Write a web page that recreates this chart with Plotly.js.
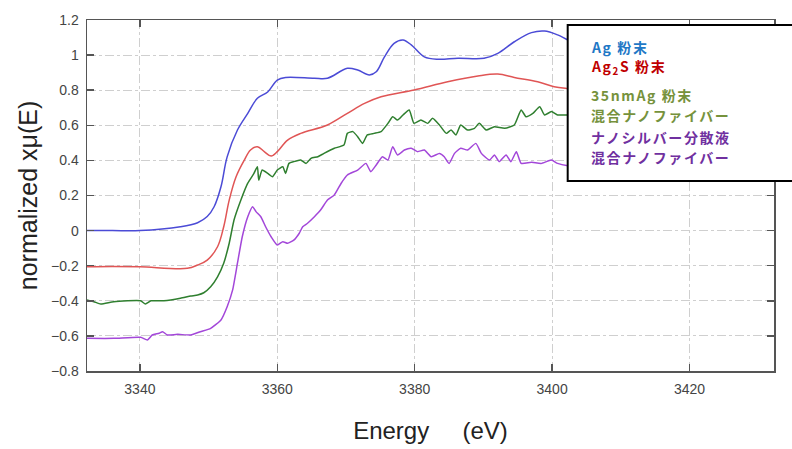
<!DOCTYPE html>
<html>
<head>
<meta charset="utf-8">
<script src="https://cdn.plot.ly/plotly-3.0.1.min.js"></script>
<style>html,body{margin:0;padding:0;background:#fff;}#chart{width:792px;height:449px;}</style>
</head>
<body>
<div id="chart"></div>
<script>
// Ag powder
const agE = [3332.3,3336,3340,3345.9,3348.4,3349.8,3350.8,3351.8,3352.7,3354.2,3355.7,3357.1,3358.6,3360,3361.2,3365.4,3367.3,3370.2,3371.7,3373.4,3374.4,3375.6,3377,3378.3,3379.5,3381.4,3383.4,3386.3,3390.1,3392.1,3394.5,3397,3398.9,3400.8,3402.3,3404];
const agV = [0.0,0.0,0.0,0.022,0.045,0.08,0.136,0.25,0.42,0.573,0.668,0.754,0.79,0.858,0.873,0.868,0.868,0.925,0.915,0.887,0.905,0.99,1.067,1.086,1.058,0.99,0.976,0.982,0.982,1.01,1.076,1.128,1.137,1.115,1.086,1.06];

// Ag2S powder
const ag2sE = [3332.3,3336,3340,3346.9,3348.4,3349.8,3351.3,3352.2,3353,3354,3355.2,3356.1,3357.1,3358.1,3359.1,3360,3361.5,3363.4,3367.3,3370.2,3372.7,3375.1,3379.9,3384.8,3389.2,3392.1,3394.5,3397.9,3400.3,3402.3,3404];
const ag2sV = [-0.206,-0.204,-0.206,-0.215,-0.196,-0.168,-0.092,0.022,0.174,0.307,0.402,0.459,0.478,0.45,0.425,0.45,0.516,0.554,0.602,0.668,0.725,0.763,0.801,0.848,0.881,0.892,0.873,0.848,0.82,0.81,0.805];

// 35nm Ag powder mixed nanofiber
const nm35E = [3332.3,3333.3,3334.3,3336.2,3340.1,3340.8,3341.6,3343.5,3345.9,3347.4,3348.4,3349.3,3350.3,3351.3,3352.2,3353,3353.7,3354.7,3355.7,3356.6,3357.1,3357.3,3357.8,3358.6,3359.3,3360,3360.8,3361.2,3361.7,3362.4,3363.4,3364.2,3364.9,3365.9,3366.8,3368.3,3369.7,3370.2,3371,3371.7,3372.4,3373.1,3374.1,3375.1,3376.1,3376.8,3377.5,3378.3,3379.2,3379.9,3380.9,3381.9,3382.6,3383.6,3384.6,3385.3,3386,3386.7,3387.7,3388.7,3389.4,3390.4,3391.6,3393.1,3394.5,3395.5,3396.2,3397.2,3398.2,3398.9,3399.9,3400.8,3402.3,3404];
const nm35V = [-0.395,-0.405,-0.418,-0.405,-0.4,-0.418,-0.4,-0.4,-0.386,-0.373,-0.367,-0.354,-0.32,-0.263,-0.186,-0.072,0.06,0.174,0.27,0.326,0.364,0.288,0.345,0.326,0.307,0.345,0.364,0.326,0.383,0.393,0.402,0.383,0.412,0.421,0.44,0.469,0.488,0.554,0.564,0.535,0.497,0.545,0.554,0.564,0.611,0.649,0.63,0.659,0.687,0.611,0.63,0.611,0.64,0.602,0.554,0.573,0.545,0.602,0.573,0.583,0.611,0.573,0.592,0.583,0.602,0.687,0.649,0.668,0.706,0.659,0.678,0.659,0.659,0.655];

// Nano-silver dispersion mixed nanofiber
const nsE = [3332.3,3336.2,3340.1,3341.1,3341.8,3342.8,3343.3,3344,3345.5,3347.4,3348.8,3350.3,3351.8,3352.7,3353.5,3354.2,3354.9,3355.7,3356.4,3356.9,3357.6,3358.3,3359.1,3360,3360.8,3361.5,3362.4,3363.2,3363.7,3364.4,3365.4,3366.3,3367.3,3368.3,3369.3,3370.2,3371.7,3372.9,3373.6,3374.4,3375.3,3376.1,3376.8,3377.5,3378.5,3379.5,3380.4,3381.4,3382.4,3383.6,3384.3,3385,3385.8,3386.7,3387.7,3388.9,3389.7,3390.9,3391.6,3392.3,3393.3,3394,3394.8,3395.5,3397,3398.4,3399.9,3400.8,3402.3,3404];
const nsV = [-0.614,-0.614,-0.608,-0.623,-0.595,-0.585,-0.576,-0.595,-0.591,-0.595,-0.576,-0.557,-0.509,-0.434,-0.338,-0.186,-0.035,0.079,0.136,0.108,0.079,0.022,-0.035,-0.082,-0.063,-0.072,-0.054,-0.015,0.022,0.042,0.079,0.117,0.174,0.203,0.27,0.317,0.345,0.383,0.336,0.374,0.421,0.402,0.478,0.431,0.459,0.469,0.45,0.459,0.421,0.44,0.421,0.383,0.44,0.469,0.459,0.497,0.44,0.402,0.431,0.393,0.431,0.393,0.45,0.383,0.389,0.383,0.402,0.383,0.37,0.365];

const legendLines = [
  {text: 'Ag 粉末', color: '#1f78c6'},
  {text: 'Ag<sub>2</sub>S 粉末', color: '#c00000'},
  {text: '35nmAg 粉末', color: '#76923c'},
  {text: '混合ナノファイバー', color: '#76923c'},
  {text: 'ナノシルバー分散液', color: '#7030a0'},
  {text: '混合ナノファイバー', color: '#7030a0'}
];
const legendY = [0.9239, 0.8667, 0.7863, 0.7293, 0.6675, 0.6105];

const lw = 1.5;
const traces = [
  {x: agE, y: agV, name: 'Ag 粉末', line: {color: '#4b4bd6', width: lw, shape: 'spline', smoothing: 1}},
  {x: ag2sE, y: ag2sV, name: 'Ag2S 粉末', line: {color: '#e05555', width: lw, shape: 'spline', smoothing: 1}},
  {x: nm35E, y: nm35V, name: '35nmAg 粉末 混合ナノファイバー', line: {color: '#2f7f2f', width: lw, shape: 'spline', smoothing: 0.5}},
  {x: nsE, y: nsV, name: 'ナノシルバー分散液 混合ナノファイバー', line: {color: '#a347d9', width: lw, shape: 'spline', smoothing: 0.5}}
].map(t => Object.assign({type: 'scatter', mode: 'lines', hoverinfo: 'skip'}, t));

const axisCommon = {
  showline: true, linecolor: '#555', linewidth: 1.5, mirror: 'ticks',
  ticks: 'inside', ticklen: 7, tickwidth: 1.5, tickcolor: '#555',
  showgrid: true, gridcolor: '#cfcfcf', gridwidth: 1, griddash: 'dashdot',
  zeroline: false,
  tickfont: {family: 'Liberation Sans, Arial, sans-serif', size: 14, color: '#444'}
};

const annotations = legendLines.map((l, i) => ({
  xref: 'paper', yref: 'paper', x: 0.7307, y: legendY[i], xanchor: 'left', yanchor: 'middle',
  text: '<span style="letter-spacing:1.6px">' + l.text + '</span>', showarrow: false,
  font: {family: 'Noto Sans CJK JP, sans-serif', size: 14, color: l.color, weight: 'bold'}
}));

const layout = {
  width: 792, height: 449,
  margin: {l: 87, r: 18, t: 20, b: 78},
  paper_bgcolor: '#fff', plot_bgcolor: '#fff',
  showlegend: false,
  xaxis: Object.assign({}, axisCommon, {
    range: [3332.3, 3432.3], tick0: 3340, dtick: 20, ticklabelstandoff: 5,
    title: {text: 'Energy\u00a0\u00a0\u00a0\u00a0\u00a0(eV)', standoff: 26,
            font: {family: 'Liberation Sans, Arial, sans-serif', size: 24, color: '#222'}}
  }),
  yaxis: Object.assign({}, axisCommon, {
    range: [-0.8, 1.2], dtick: 0.2, ticklabelstandoff: 4,
    title: {text: 'normalized xμ(E)', standoff: 6,
            font: {family: 'Liberation Sans, Arial, sans-serif', size: 25, color: '#222'}}
  }),
  shapes: [{
    type: 'rect', xref: 'paper', yref: 'paper', layer: 'above',
    x0: 0.6997, x1: 1.06, y0: 0.5413, y1: 0.9858,
    line: {color: '#000', width: 2}, fillcolor: '#fff'
  }],
  annotations: annotations
};

Plotly.newPlot('chart', traces, layout, {staticPlot: true, displayModeBar: false});
</script>
</body>
</html>
